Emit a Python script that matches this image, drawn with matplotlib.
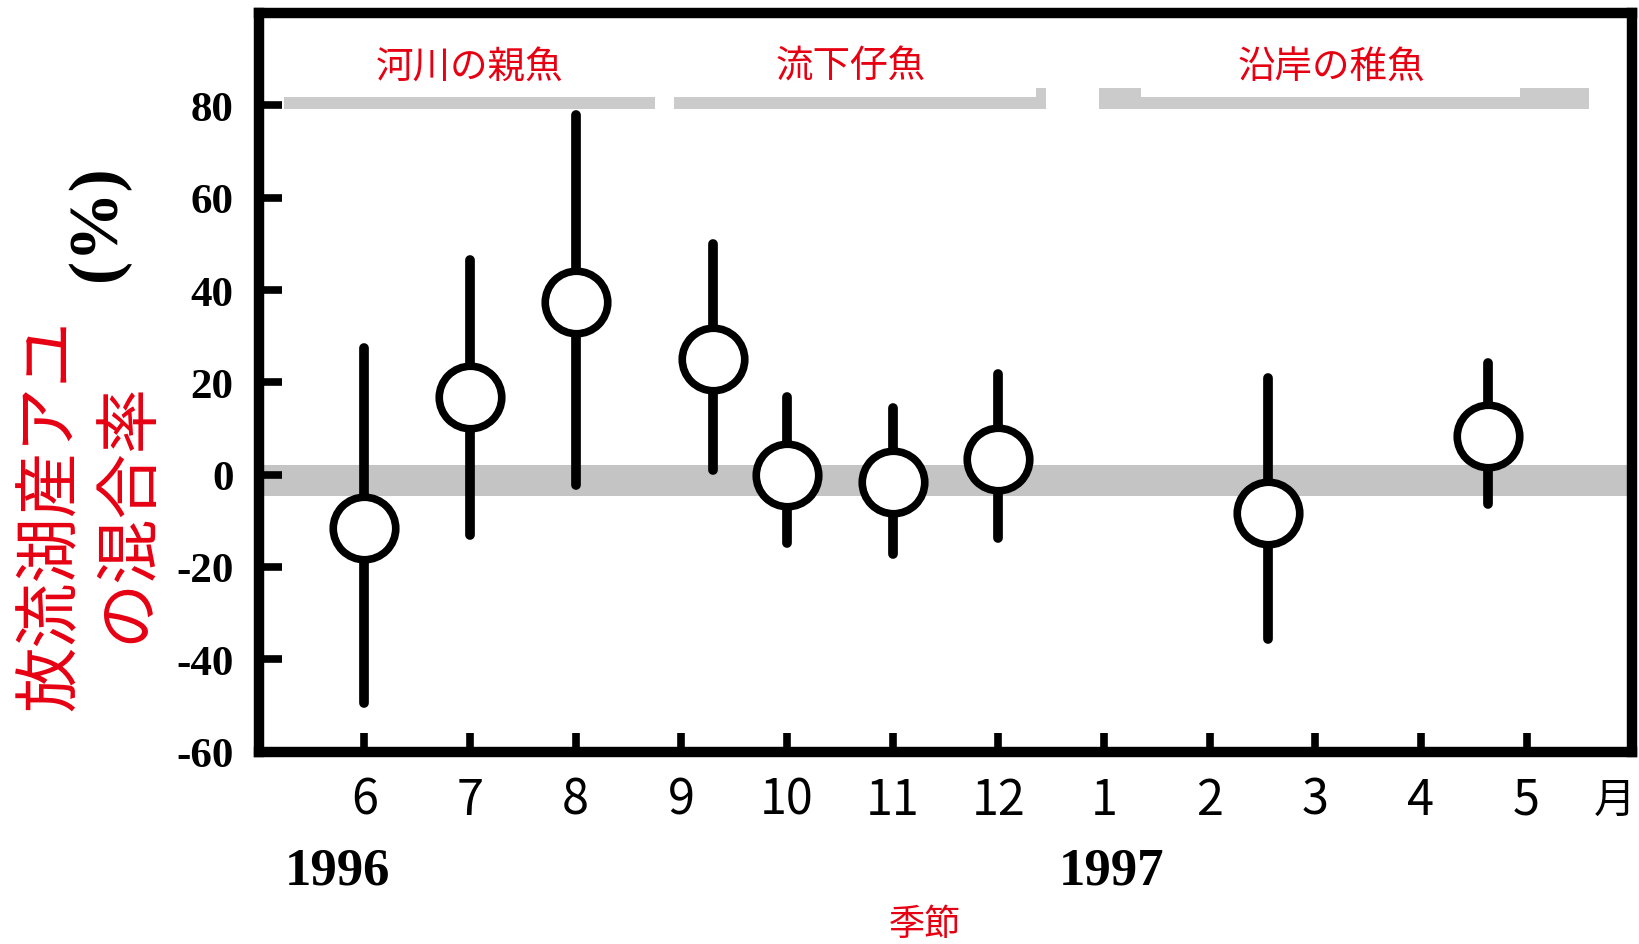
import matplotlib
matplotlib.use('Agg')
import matplotlib.pyplot as plt

# months counted from Jan 1996 (13 = Jan 1997)
month_pos = [6, 7, 8, 9, 10, 11, 12, 13, 14, 15, 16, 17]
month_labels = ['6', '7', '8', '9', '10', '11', '12', '1', '2', '3', '4', '5']

# mixing rate of stocked lake ayu (%), with ranges
sample_x = [6.0, 7.0, 8.0, 9.3, 10.0, 11.0, 12.0, 14.55, 16.63]
mix_rate = [-11.5, 16.8, 37.3, 25.0, 0.0, -1.6, 3.3, -8.3, 8.3]
rate_low = [-49.4, -13.0, -2.2, 1.0, -14.8, -17.2, -13.8, -35.7, -6.4]
rate_high = [27.5, 46.6, 78.0, 50.0, 16.8, 14.4, 21.7, 20.9, 24.2]

# life-stage bars at the top
stage_labels = ['河川の親魚', '流下仔魚', '沿岸の稚魚']
stage_start = [5.24, 8.93, 12.95]
stage_end = [8.75, 12.45, 17.59]
stage_label_x = [7.0, 10.6, 15.15]
# thicker pieces of the stage bars
thick_start = [12.36, 12.95, 16.94]
thick_end = [12.45, 13.35, 17.59]

# zero band
band_low, band_high = -4.7, 2.0

y_ticks = [-60, -40, -20, 0, 20, 40, 60, 80]

RED = '#e60012'
JP = ['Noto Sans CJK JP', 'DejaVu Sans']
SERIF = 'Liberation Serif'

fig = plt.figure(figsize=(16.39, 9.45), dpi=100)
ax = fig.add_axes([0.1578, 0.2036, 0.8381, 0.7815])

ax.axhspan(band_low, band_high, color='#c4c4c4', lw=0, zorder=1)

ax.broken_barh([(s, e - s) for s, e in zip(stage_start, stage_end)], (79.2, 2.7),
               facecolor='#cbcbcb', edgecolor='none', zorder=1)
ax.broken_barh([(s, e - s) for s, e in zip(thick_start, thick_end)], (79.2, 4.6),
               facecolor='#cbcbcb', edgecolor='none', zorder=1)
for lab, lx in zip(stage_labels, stage_label_x):
    ax.text(lx, 88.5, lab, color=RED, fontsize=27, family=JP,
            ha='center', va='center')

ax.vlines(sample_x, rate_low, rate_high, color='black', lw=7,
          capstyle='round', zorder=3)
ax.plot(sample_x, mix_rate, 'o', ms=45, mfc='white', mec='black', mew=5.5,
        zorder=4, clip_on=False)

ax.set_xlim(5, 18)
ax.set_ylim(-60, 100)
ax.set_xticks(month_pos)
ax.set_xticklabels(month_labels, fontsize=35, family=JP)
ax.set_yticks(y_ticks)
ax.set_yticklabels([str(v) for v in y_ticks], fontsize=31, family=SERIF,
                   fontweight='bold')
ax.tick_params(axis='x', direction='in', length=13.5, width=5.5, pad=17)
ax.tick_params(axis='y', direction='in', length=16.5, width=5.5, pad=18)
for sp in ax.spines.values():
    sp.set_linewidth(7.5)
    sp.set_zorder(5)

ax.text(17.83, -0.066, '月', transform=ax.get_xaxis_transform(),
        fontsize=30, family=JP, ha='center', va='center')
ax.text(5.75, -0.161, '1996', transform=ax.get_xaxis_transform(),
        fontsize=38, family=SERIF, fontweight='bold', ha='center', va='center')
ax.text(13.07, -0.161, '1997', transform=ax.get_xaxis_transform(),
        fontsize=38, family=SERIF, fontweight='bold', ha='center', va='center')

fig.text(0.5644, 0.0212, '季節', color=RED, fontsize=26, family=JP,
         ha='center', va='center')
fig.text(0.0312, 0.455, '放流湖産アユ', color=RED, fontsize=47, family=JP,
         rotation=90, ha='center', va='center')
fig.text(0.0783, 0.458, 'の混合率', color=RED, fontsize=47, family=JP,
         rotation=90, ha='center', va='center')
fig.text(0.0600, 0.764, '(%)', fontsize=50, family=SERIF, fontweight='bold',
         rotation=90, ha='center', va='center')

fig.savefig('out.png', dpi=100)
